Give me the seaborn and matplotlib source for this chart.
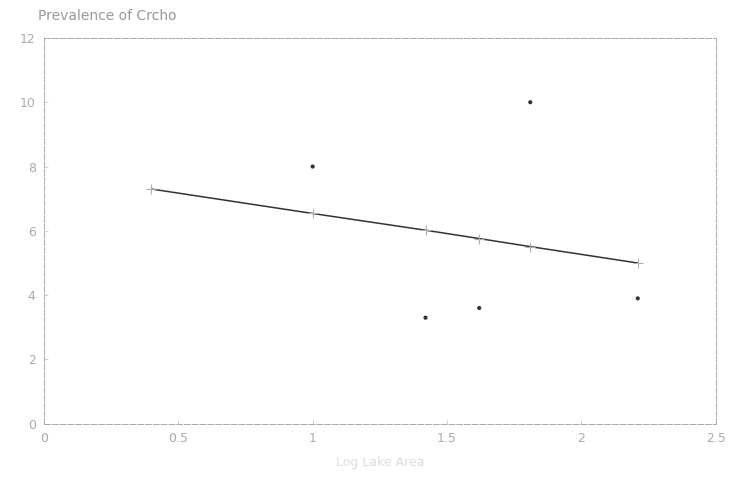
import matplotlib
matplotlib.use("Agg")
import matplotlib.pyplot as plt
import seaborn as sns
import pandas as pd

# Observed prevalence values
obs_x = [1.00, 1.42, 1.62, 1.81, 2.21]
obs_y = [8.0, 3.3, 3.6, 10.0, 3.9]

# Fitted regression values
fit_x = [0.40, 1.00, 1.42, 1.62, 1.81, 2.21]
fit_y = [7.30, 6.54, 6.02, 5.76, 5.51, 5.00]

x_ticks = [0, 0.5, 1, 1.5, 2, 2.5]
x_tick_labels = ["0", "0.5", "1", "1.5", "2", "2.5"]
y_ticks = [0, 2, 4, 6, 8, 10, 12]
y_tick_labels = ["0", "2", "4", "6", "8", "10", "12"]

title = "Prevalence of Crcho"
x_label = "Log Lake Area"

obs = pd.DataFrame({"x": obs_x, "y": obs_y})
fit = pd.DataFrame({"x": fit_x, "y": fit_y})

sns.set_theme(style="white")
plt.rcParams["font.family"] = ["DejaVu Sans"]

fig = plt.figure(figsize=(7.34, 4.86), dpi=100)
ax = fig.add_axes([0.060, 0.128, 0.915, 0.794])

sns.lineplot(data=fit, x="x", y="y", ax=ax, color="#333333", linewidth=1.1,
             marker="+", markersize=7, markeredgecolor="#b0b0b0",
             markeredgewidth=0.8, sort=True)
sns.scatterplot(data=obs, x="x", y="y", ax=ax, color="#333333", s=9,
                edgecolor="none")

ax.set_xlim(0, 2.5)
ax.set_ylim(0, 12)
ax.set_xticks(x_ticks)
ax.set_xticklabels(x_tick_labels)
ax.set_yticks(y_ticks)
ax.set_yticklabels(y_tick_labels)
ax.tick_params(axis="both", colors="#c8c8c8", labelcolor="#aaaaaa",
               labelsize=9, length=3, width=0.6, direction="in",
               left=True, bottom=True, pad=6)
ax.set_xlabel(x_label, color="#dddddd", fontsize=9, labelpad=8)
ax.set_ylabel("")

for side, sp in ax.spines.items():
    sp.set_visible(True)
    sp.set_color("#aaaaaa")
    sp.set_linewidth(0.7)
    sp.set_linestyle((0, (6, 2)))

fig.text(0.052, 0.952, title, color="#999999", fontsize=10, ha="left",
         va="bottom")

fig.savefig("out.png", dpi=100, facecolor="white")
